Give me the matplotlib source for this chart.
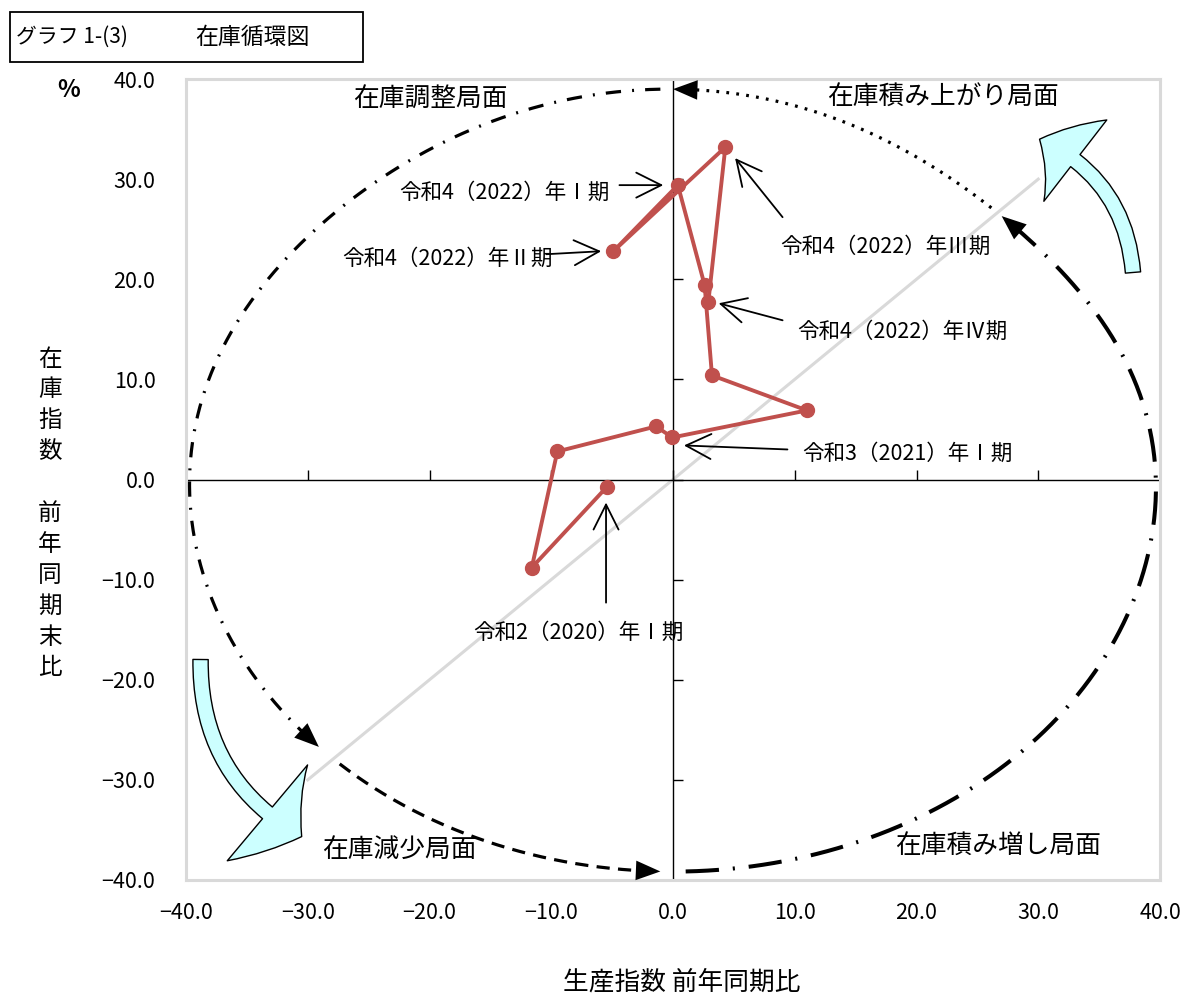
"""在庫循環図 (inventory cycle chart)."""

import matplotlib
matplotlib.use("Agg")
import matplotlib.pyplot as plt
import numpy as np
from matplotlib.patches import FancyArrowPatch, Rectangle
from matplotlib.ticker import FuncFormatter

plt.rcParams['font.family'] = ['Noto Sans CJK JP', 'DejaVu Sans']
plt.rcParams['lines.scale_dashes'] = False

# data: 生産指数 前年同期比 (x), 在庫指数 前年同期末比 (y)
quarters = ['2020-I', '2020-II', '2020-III', '2020-IV',
            '2021-I', '2021-II', '2021-III', '2021-IV',
            '2022-I', '2022-II', '2022-III', '2022-IV']
production = [-5.4, -11.6, -9.5, -1.4, -0.05, 11.0, 3.2, 2.6, 0.4, -4.9, 4.3, 2.9]
inventory = [-0.7, -8.8, 2.8, 5.3, 4.2, 6.9, 10.4, 19.4, 29.4, 22.8, 33.2, 17.7]

ticks = [-40, -30, -20, -10, 0, 10, 20, 30, 40]
diag = [-30, 30]
phases = ['在庫調整局面', '在庫積み上がり局面', '在庫減少局面', '在庫積み増し局面']
note_labels = ['令和2（2020）年Ⅰ期', '令和3（2021）年Ⅰ期', '令和4（2022）年Ⅰ期',
               '令和4（2022）年Ⅱ期', '令和4（2022）年Ⅲ期', '令和4（2022）年Ⅳ期']

W, H = 1181, 993
fig = plt.figure(figsize=(W / 100, H / 100), dpi=100)
ax = fig.add_axes([186 / W, 1 - 880 / H, (1160 - 186) / W, (880 - 79) / H])
ax.set_xlim(-40, 40)
ax.set_ylim(-40, 40)

# grey frame, labels outside
for sp in ax.spines.values():
    sp.set_color('#d9d9d9')
    sp.set_linewidth(2.2)
ax.set_xticks(ticks)
ax.set_yticks(ticks)
fmt = FuncFormatter(lambda v, p: f'{v:.1f}'.replace('-', '\u2212'))
ax.xaxis.set_major_formatter(fmt)
ax.yaxis.set_major_formatter(fmt)
ax.tick_params(axis='both', length=0, labelsize=15.5)
ax.tick_params(axis='x', pad=16)
ax.tick_params(axis='y', pad=22)

# centre cross with small ticks
ax.axvline(0, color='k', lw=1, zorder=2)
ax.axhline(0, color='k', lw=1, zorder=2)
ax.plot([0] * len(ticks), ticks, ls='none', marker=1, ms=7, mew=1, color='k', clip_on=False)
ax.plot(ticks, [0] * len(ticks), ls='none', marker=2, ms=7, mew=1, color='k', clip_on=False)

ax.plot(diag, diag, color='#d9d9d9', lw=2.2, zorder=1)

# cycle loop (hand-drawn look: slightly pulled in on the upper diagonals)
rx, ry = 39.77, 39.16


def loop(t):
    t = np.deg2rad(t)
    r = (1 - 0.045 * np.clip(np.cos(t - np.pi / 4), 0, None) ** 8
         - 0.025 * np.clip(np.cos(t - 3 * np.pi / 4), 0, None) ** 8)
    return rx * r * np.cos(t), ry * r * np.sin(t)


arcs = [
    (91.5, 223, dict(lw=2.3, ls=(0, (11, 8, 1.4, 8)))),
    (226.5, 268.5, dict(lw=2.3, ls=(0, (9.5, 6)))),
    (271.5, 404.7, dict(lw=2.9, ls=(0, (24, 10, 1.5, 10)))),
    (46.5, 90, dict(lw=2.3, ls=(0, (2, 5.2)))),
]
for t1, t2, st in arcs:
    t = np.linspace(t1, t2 - 2.5, 200)
    x, y = loop(t)
    ax.plot(x, y, color='k', **st, zorder=3)
    ax.annotate('', xy=loop(t2), xytext=loop(t2 - 3),
                arrowprops=dict(arrowstyle='-|>,head_length=0.8,head_width=0.32',
                                mutation_scale=22, color='k', lw=0,
                                shrinkA=0, shrinkB=0), zorder=4)

# big cyan arrows
for a, b, hw in [((37.8, 20.4), (29.9, 34.1), 74), ((-38.8, -17.7), (-30.3, -35.8), 90)]:
    ax.add_patch(FancyArrowPatch(
        a, b, connectionstyle='arc3,rad=0.3',
        arrowstyle=f'simple,head_length=30,head_width={hw},tail_width=11',
        mutation_scale=1, fc='#ccffff', ec='k', lw=1, zorder=3))

# inventory cycle path
ax.plot(production, inventory, color='#c0504d', lw=2.8, marker='o', ms=10,
        zorder=6, clip_on=False)

# phase names
for name, (px, py) in zip(phases, [(-19.9, 37.9), (22.2, 38.2), (-22.5, -37.0), (26.7, -36.6)]):
    ax.text(px, py, name, fontsize=18.5, ha='center', va='center', zorder=7)

# quarter notes: text pos, arrow tail, arrow head
note_pos = [
    ((-7.8, -15.3), (-5.5, -12.3), (-5.5, -2.3), 'center'),
    ((10.6, 2.6), (9.4, 3.0), (0.9, 3.4), 'left'),
    ((-5.2, 28.6), (-4.4, 29.4), (-0.8, 29.4), 'right'),
    ((-9.9, 22.0), (-10.4, 22.5), (-5.9, 22.8), 'right'),
    ((8.8, 23.2), (9.0, 26.2), (5.1, 32.1), 'left'),
    ((10.2, 14.7), (9.0, 15.9), (3.75, 17.6), 'left'),
]
for label, (txy, tail, head, ha) in zip(note_labels, note_pos):
    ax.text(*txy, label, fontsize=15.5, ha=ha, va='center', zorder=7)
    ax.annotate('', xy=head, xytext=tail,
                arrowprops=dict(arrowstyle='->,head_length=0.9,head_width=0.45',
                                mutation_scale=20, color='k', lw=1.3,
                                shrinkA=0, shrinkB=0), zorder=7)

# title box
fig.patches.append(Rectangle((10 / W, 1 - 62 / H), 353 / W, 50 / H, transform=fig.transFigure,
                             fill=False, ec='k', lw=1.3))
fig.text(16 / W, 1 - 37 / H, 'グラフ 1-(3)', fontsize=15, va='center')
fig.text(195 / W, 1 - 37 / H, '在庫循環図', fontsize=16.5, va='center')

fig.text(69 / W, 1 - 90 / H, '%', fontsize=17, fontweight='bold', ha='center', va='center')

# vertical y label, one character per row
for i, ch in enumerate('在庫指数 前年同期末比'):
    if ch != ' ':
        fig.text(50 / W, 1 - (359 + 30.9 * i) / H, ch, fontsize=17, ha='center', va='center')

fig.text(682 / W, 1 - 982 / H, '生産指数 前年同期比', fontsize=18.5, ha='center', va='center')

fig.savefig('out.png', dpi=100)
